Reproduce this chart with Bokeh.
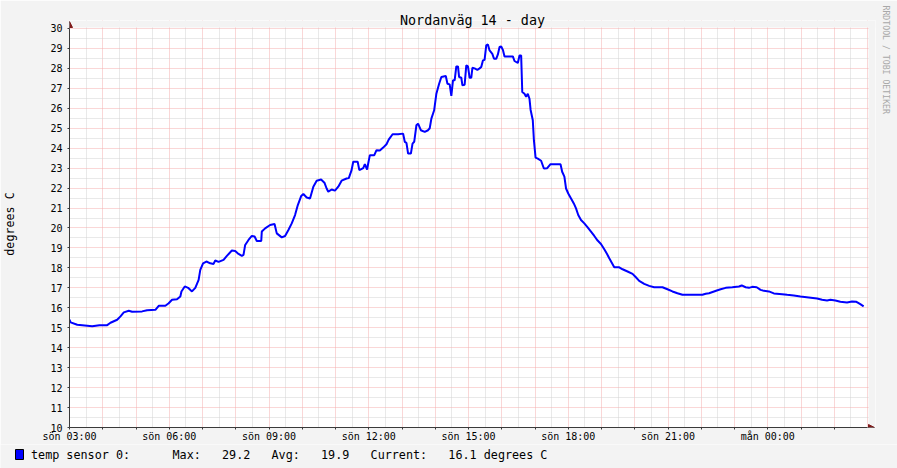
import math
from bokeh.plotting import figure
from bokeh.layouts import column
from bokeh.models import (Range1d, FixedTicker, Arrow, NormalHead, Title)
from bokeh.core.properties import value
from bokeh.embed import file_html
from bokeh.resources import INLINE

# ---------------- data ----------------
title_text = "Nordanväg 14 - day"
unit_text = "degrees C"
watermark_text = "RRDTOOL / TOBI OETIKER"
legend_name = "temp sensor 0:"
stat_max = "29.2"
stat_avg = "19.9"
stat_cur = "16.1"

# minutes after sön 03:00
minutes = [0, 2, 14, 41, 54, 68, 74, 86, 92, 98, 107, 113, 131, 140, 155, 161, 173, 179,
           185, 194, 200, 202, 208, 214, 221, 227, 233, 236, 241, 247, 254, 260, 263, 269,
           278, 284, 293, 299, 305, 311, 314, 317, 323, 329, 334, 338, 346, 347, 353, 362,
           370, 374, 383, 389, 395, 401, 407, 412, 418, 422, 428, 434, 440, 446, 454, 460,
           464, 467, 473, 479, 485, 491, 500, 504, 509, 512, 520, 523, 530, 533, 537, 539,
           542, 550, 554, 560, 566, 572, 576, 583, 593, 602, 605, 608, 611, 616, 619, 622,
           626, 629, 634, 641, 647, 650, 653, 658, 662, 667, 671, 679, 682, 686, 689, 692,
           695, 698, 701, 703, 707, 709, 713, 716, 719, 722, 725, 727, 731, 736, 740, 743,
           746, 749, 752, 755, 758, 763, 766, 770, 773, 776, 779, 782, 785, 800, 803, 809,
           812, 815, 817, 821, 824, 827, 830, 832, 836, 838, 841, 845, 851, 856, 862, 868,
           886, 889, 893, 896, 900, 905, 910, 914, 918, 923, 929, 935, 941, 947, 953, 959,
           965, 970, 974, 979, 983, 992, 998, 1007, 1016, 1022, 1028, 1037, 1046, 1055,
           1070, 1079, 1088, 1097, 1106, 1142, 1148, 1154, 1163, 1168, 1175, 1184, 1196,
           1208, 1213, 1220, 1226, 1232, 1240, 1247, 1253, 1262, 1271, 1286, 1295, 1307,
           1319, 1334, 1349, 1358, 1367, 1373, 1382, 1391, 1403, 1412, 1420, 1427, 1433]

temps = [15.40, 15.27, 15.15, 15.07, 15.13, 15.13, 15.25, 15.40, 15.57, 15.77, 15.85, 15.80,
         15.82, 15.88, 15.90, 16.10, 16.10, 16.23, 16.40, 16.43, 16.57, 16.82, 17.07, 17.00,
         16.82, 17.00, 17.40, 17.90, 18.23, 18.32, 18.23, 18.20, 18.37, 18.30, 18.40, 18.60,
         18.87, 18.85, 18.70, 18.60, 18.65, 19.15, 19.40, 19.60, 19.57, 19.35, 19.35, 19.82,
         19.98, 20.15, 20.20, 19.73, 19.53, 19.60, 19.90, 20.23, 20.65, 21.15, 21.60, 21.70,
         21.53, 21.48, 22.07, 22.37, 22.43, 22.27, 21.98, 21.82, 21.93, 21.87, 22.07, 22.37,
         22.48, 22.50, 22.90, 23.32, 23.32, 22.90, 23.00, 23.20, 22.93, 23.23, 23.65, 23.65,
         23.90, 23.88, 24.03, 24.20, 24.43, 24.70, 24.70, 24.73, 24.32, 24.27, 23.73, 23.73,
         24.23, 24.32, 25.15, 25.23, 24.90, 24.82, 24.90, 25.00, 25.48, 25.90, 26.73, 27.23,
         27.57, 27.62, 27.23, 27.20, 26.62, 27.40, 27.40, 28.10, 28.10, 27.57, 27.53, 27.15,
         27.18, 28.15, 28.10, 27.53, 27.53, 28.03, 28.00, 27.93, 28.00, 28.07, 28.40, 28.43,
         29.15, 29.20, 28.90, 28.73, 28.48, 28.48, 28.70, 29.07, 29.10, 28.93, 28.60, 28.60,
         28.37, 28.27, 28.65, 28.65, 26.82, 26.73, 26.57, 26.73, 26.48, 25.93, 25.40, 24.40,
         23.53, 23.48, 23.37, 22.98, 23.00, 23.20, 23.20, 22.82, 22.57, 21.98, 21.73, 21.48,
         21.23, 20.98, 20.65, 20.40, 20.23, 20.03, 19.82, 19.60, 19.37, 19.20, 18.93, 18.70,
         18.48, 18.23, 18.03, 18.03, 17.93, 17.82, 17.70, 17.53, 17.35, 17.20, 17.10, 17.03,
         17.03, 16.93, 16.82, 16.73, 16.65, 16.65, 16.70, 16.73, 16.82, 16.87, 16.93, 17.00,
         17.03, 17.07, 17.12, 17.03, 17.00, 17.05, 17.03, 16.90, 16.85, 16.82, 16.72, 16.68,
         16.65, 16.62, 16.57, 16.52, 16.47, 16.40, 16.37, 16.40, 16.37, 16.30, 16.27, 16.32,
         16.30, 16.18, 16.07]

x_tick_minutes = [0, 180, 360, 540, 720, 900, 1080, 1260]
x_tick_labels = ["sön 03:00", "sön 06:00", "sön 09:00", "sön 12:00",
                 "sön 15:00", "sön 18:00", "sön 21:00", "mån 00:00"]
y_ticks = list(range(10, 31))
X_SPAN = 1440
Y_MIN, Y_MAX = 10, 30

# ---------------- styling ----------------
MONO = "DejaVu Sans Mono"
BACK = "#F3F3F3"
AXIS = "#3A3A3A"
ARROW = "#7F1A1A"

W = 897
H_MAIN, H_LEG = 444, 24
PLOT_L, PLOT_T, PLOT_W, PLOT_H = 67, 28, 800, 400   # white canvas area
EXT_TOP, EXT_RIGHT = 8, 8                             # room for the axis arrows
px_per_min = PLOT_W / X_SPAN
px_per_deg = PLOT_H / (Y_MAX - Y_MIN)
x_end = X_SPAN + EXT_RIGHT / px_per_min
y_end = Y_MAX + EXT_TOP / px_per_deg

p = figure(width=W, height=H_MAIN, output_backend="svg", toolbar_location=None,
           x_range=Range1d(0, x_end), y_range=Range1d(Y_MIN, y_end),
           min_border_left=PLOT_L, min_border_top=PLOT_T - EXT_TOP,
           min_border_right=W - PLOT_L - PLOT_W - EXT_RIGHT,
           min_border_bottom=H_MAIN - PLOT_T - PLOT_H)
p.frame_align = False
p.background_fill_color = "white"
p.border_fill_color = BACK
p.outline_line_color = None

# grids
hours = list(range(0, X_SPAN + 1, 60))
halves = list(range(30, X_SPAN, 60))
p.xgrid.ticker = FixedTicker(ticks=hours, minor_ticks=halves)
p.ygrid.ticker = FixedTicker(ticks=y_ticks, minor_ticks=[v + 0.5 for v in y_ticks[:-1]])
for g in (p.xgrid, p.ygrid):
    g.grid_line_color = "#F5AFAF"
    g.grid_line_dash = "1 1"
    g.grid_line_width = 1
    g.minor_grid_line_color = "#D2D2D2"
    g.minor_grid_line_dash = "1 1"
    g.minor_grid_line_width = 1

# cover the arrow margins (outside the white canvas) with the page colour
eps_x = 1 / px_per_min
eps_y = 1 / px_per_deg
p.quad(left=[0, X_SPAN + eps_x], right=[x_end, x_end],
       bottom=[Y_MAX + eps_y, Y_MIN], top=[y_end, y_end],
       fill_color=BACK, line_color=None)

# axes
p.xaxis.ticker = FixedTicker(ticks=hours[:-1], minor_ticks=[])
overrides = {h: "" for h in hours}
overrides.update({m: lab for m, lab in zip(x_tick_minutes, x_tick_labels)})
p.xaxis.major_label_overrides = overrides
p.xaxis.bounds = (0, X_SPAN)
p.yaxis.ticker = FixedTicker(ticks=y_ticks, minor_ticks=[])
p.yaxis.major_label_overrides = {v: str(v) for v in y_ticks}
p.yaxis.bounds = (Y_MIN, Y_MAX)
for ax in (p.xaxis[0], p.yaxis[0]):
    ax.axis_line_color = AXIS
    ax.axis_line_width = 1
    ax.major_tick_line_color = AXIS
    ax.major_tick_out = 2
    ax.major_tick_in = 0
    ax.minor_tick_out = 0
    ax.minor_tick_in = 0
    ax.major_label_text_font = MONO
    ax.major_label_text_font_size = "10px"
    ax.major_label_text_color = "black"
p.xaxis.major_label_standoff = 1
p.yaxis.major_label_standoff = 5
p.yaxis.axis_label = unit_text
p.yaxis.axis_label_text_font = MONO
p.yaxis.axis_label_text_font_size = "11.7px"
p.yaxis.axis_label_text_font_style = "normal"
p.yaxis.axis_label_text_color = "black"
p.yaxis.axis_label_standoff = 30

# data line
p.line(minutes, temps, line_color="#0000FF", line_width=2)

# axis arrows
p.add_layout(Arrow(end=NormalHead(size=6, fill_color=ARROW, line_color=ARROW),
                   x_start=0, y_start=Y_MAX, x_end=0, y_end=Y_MAX + 7 / px_per_deg,
                   line_color=AXIS, line_width=1))
p.add_layout(Arrow(end=NormalHead(size=6, fill_color=ARROW, line_color=ARROW),
                   x_start=X_SPAN, y_start=Y_MIN, x_end=X_SPAN + 7 / px_per_min, y_end=Y_MIN,
                   line_color=AXIS, line_width=1))

# title
p.add_layout(Title(text=title_text, align="center", offset=-15, standoff=-15,
                   text_font=MONO, text_font_size="13.4px", text_font_style="normal",
                   text_color="black"), "above")

# watermark on the right
p.add_layout(Title(text=watermark_text, align="left", offset=-15, standoff=10,
                   text_font=MONO, text_font_size="8.2px", text_font_style="normal",
                   text_color="#A8A8A8"), "right")

# ---------------- legend row (separate strip below the chart) ----------------
lg = figure(width=W, height=H_LEG, output_backend="svg", toolbar_location=None,
            x_range=Range1d(0, W), y_range=Range1d(H_LEG, 0),
            min_border=0, x_axis_type=None, y_axis_type=None)
lg.frame_align = False
lg.grid.visible = False
lg.background_fill_color = BACK
lg.border_fill_color = BACK
lg.outline_line_color = None

NB = "\u00a0"
legend_line = (legend_name + NB * 6 + "Max:" + NB * 3 + stat_max + NB * 3 + "Avg:" + NB * 3 +
               stat_avg + NB * 3 + "Current:" + NB * 3 + stat_cur + NB + unit_text.replace(" ", NB))
row_top = H_MAIN          # page y where the strip starts
lg.quad(left=[15], right=[23], top=[449 - row_top], bottom=[459 - row_top],
        fill_color="#0000FF", line_color="black", line_width=1)
lg.text(x=[30.5], y=[454.5 - row_top], text=[legend_line], text_font=value(MONO),
        text_font_size="11.76px", text_baseline="middle", text_align="left",
        text_color="black")

open("out.html", "w").write(file_html(column(p, lg, spacing=0), INLINE))
